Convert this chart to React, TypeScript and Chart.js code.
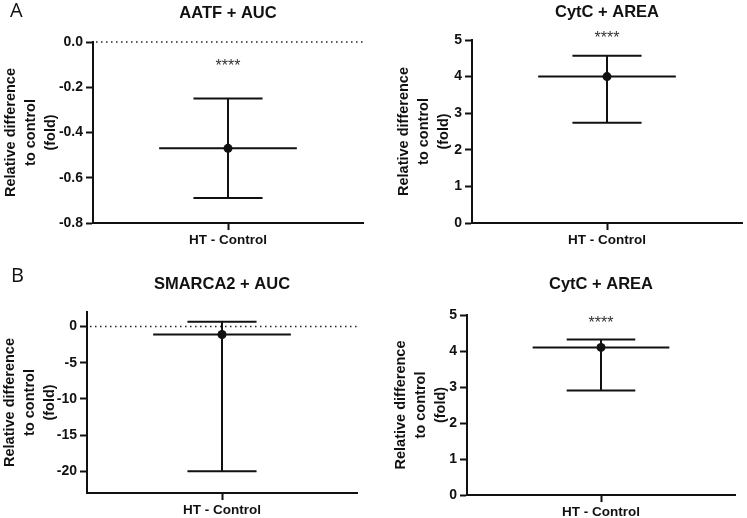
import React, { useEffect, useRef } from 'react';
import Chart from 'chart.js/auto';

// === Data ===
const CATEGORY = ['HT - Control'];
const PANEL_TITLES = ['AATF + AUC', 'CytC + AREA', 'SMARCA2 + AUC', 'CytC + AREA'];
const MEANS = [-0.47, 4.0, -1.1, 4.1];
const CI_LOWER = [-0.69, 2.74, -20.0, 2.9];
const CI_UPPER = [-0.25, 4.57, 0.65, 4.32];
const STARS = ['****', '****', '', '****'];
const STAR_VALUE = [-0.09, 5.16, 0, 4.9];
const Y_MIN = [-0.8, 0, -23, 0];
const Y_MAX = [0, 5, 2, 5];
const Y_TICKS = [
  [0, -0.2, -0.4, -0.6, -0.8],
  [0, 1, 2, 3, 4, 5],
  [0, -5, -10, -15, -20],
  [0, 1, 2, 3, 4, 5],
];
const Y_DECIMALS = [1, 0, 0, 0];
const Y_TITLE = ['Relative difference', 'to control', '(fold)'];
const FIGURE_LETTERS = ['A', 'B'];

// === Layout (pixels in the 747x518 page) ===
const PANEL_LAYOUT = [
  { box: [0, 0, 375, 259], area: [93, 42, 363, 223], titleY: 13.5, yTitleX: 11 },
  { box: [375, 0, 372, 259], area: [472, 40, 742, 223], titleY: 12.5, yTitleX: 404 },
  { box: [0, 259, 375, 259], area: [87, 312, 357, 493], titleY: 284, yTitleX: 10 },
  { box: [375, 259, 372, 259], area: [467, 315, 735, 495], titleY: 284, yTitleX: 401 },
];
const LETTER_POS = [
  { left: 10, top: 0 },
  { left: 11, top: 264.5 },
];

const FONT = "'Liberation Sans', Arial, sans-serif";
const TITLE_SIZE = 16.5;
const TITLE_LH = TITLE_SIZE * 1.2;
const YTITLE_LH = 20;
const INK = '#111111';

Chart.defaults.font.family = FONT;

// === Error bar / reference line / significance plugin ===
const errorBarPlugin = {
  id: 'errorBars',
  beforeDatasetsDraw(chart: any, _args: any, opts: any) {
    const { ctx, chartArea } = chart;
    const x = chart.scales.x;
    const y = chart.scales.y;
    const cx = x.getPixelForValue(0);
    const w = chartArea.right - chartArea.left;
    const meanHalf = w * 0.255;
    const capHalf = w * 0.128;

    ctx.save();
    // dotted zero line
    if (y.min < 0 && y.max >= 0) {
      const y0 = y.getPixelForValue(0);
      ctx.beginPath();
      ctx.setLineDash([1.5, 3.5]);
      ctx.lineWidth = 1.5;
      ctx.strokeStyle = '#222';
      ctx.moveTo(chartArea.left + 3, y0);
      ctx.lineTo(chartArea.right, y0);
      ctx.stroke();
      ctx.setLineDash([]);
    }

    const yLo = y.getPixelForValue(opts.lower);
    const yHi = y.getPixelForValue(opts.upper);
    const yMean = y.getPixelForValue(opts.mean);
    ctx.strokeStyle = INK;
    ctx.lineWidth = 2;
    ctx.lineCap = 'butt';
    ctx.beginPath();
    ctx.moveTo(cx, yLo);
    ctx.lineTo(cx, yHi);
    ctx.moveTo(cx - capHalf, yLo);
    ctx.lineTo(cx + capHalf, yLo);
    ctx.moveTo(cx - capHalf, yHi);
    ctx.lineTo(cx + capHalf, yHi);
    ctx.moveTo(cx - meanHalf, yMean);
    ctx.lineTo(cx + meanHalf, yMean);
    ctx.stroke();
    ctx.restore();
  },
  afterDraw(chart: any, _args: any, opts: any) {
    if (!opts.stars) return;
    const { ctx } = chart;
    const cx = chart.scales.x.getPixelForValue(0);
    const size = 16;
    const yc = chart.scales.y.getPixelForValue(opts.starValue);
    ctx.save();
    ctx.font = `${size}px ${FONT}`;
    ctx.fillStyle = '#333';
    ctx.textAlign = 'center';
    ctx.textBaseline = 'alphabetic';
    ctx.fillText(opts.stars, cx, yc + size * 0.57);
    ctx.restore();
  },
};

// === One panel ===
const Panel: React.FC<{ index: number }> = ({ index }) => {
  const canvasRef = useRef<HTMLCanvasElement>(null);
  const lay = PANEL_LAYOUT[index];
  const [bl, bt, bw, bh] = lay.box;
  const [al, at, ar, ab] = lay.area;

  useEffect(() => {
    if (!canvasRef.current) return;
    const yWidth = al - bl;
    const padRight = bl + bw - ar;
    const titlePadTop = lay.titleY - bt - TITLE_LH / 2;
    const titlePadBottom = at - bt - titlePadTop - TITLE_LH;
    const xHeight = bt + bh - ab;
    const yTitlePad = Math.max(0, lay.yTitleX - bl - YTITLE_LH / 2);
    const decimals = Y_DECIMALS[index];

    const chart = new Chart(canvasRef.current, {
      type: 'line',
      data: {
        labels: CATEGORY,
        datasets: [
          {
            data: [MEANS[index]],
            showLine: false,
            pointRadius: 4.5,
            pointHoverRadius: 4.5,
            pointBorderWidth: 0,
            backgroundColor: INK,
            borderColor: INK,
          },
        ],
      },
      options: {
        animation: false,
        responsive: true,
        maintainAspectRatio: false,
        events: [],
        layout: { padding: { left: 0, right: padRight, top: 0, bottom: 0 } },
        plugins: {
          legend: { display: false },
          tooltip: { enabled: false },
          title: {
            display: true,
            text: PANEL_TITLES[index],
            fullSize: false,
            color: INK,
            font: { size: TITLE_SIZE, weight: 'bold', lineHeight: 1.2 },
            padding: { top: titlePadTop, bottom: titlePadBottom },
          },
          errorBars: {
            mean: MEANS[index],
            lower: CI_LOWER[index],
            upper: CI_UPPER[index],
            stars: STARS[index],
            starValue: STAR_VALUE[index],
          },
        } as any,
        scales: {
          x: {
            type: 'category',
            offset: true,
            grid: {
              offset: false,
              drawOnChartArea: false,
              drawTicks: true,
              tickLength: 7,
              tickWidth: 2,
              color: INK,
            },
            border: { display: true, color: INK, width: 2 },
            ticks: {
              color: INK,
              padding: 2,
              font: { size: 13.5, weight: 'bold' },
            },
            afterFit: (scale: any) => {
              scale.height = xHeight;
            },
          },
          y: {
            type: 'linear',
            min: Y_MIN[index],
            max: Y_MAX[index],
            grid: {
              drawOnChartArea: false,
              drawTicks: true,
              tickLength: 7,
              tickWidth: 2,
              color: INK,
            },
            border: { display: true, color: INK, width: 2 },
            ticks: {
              color: INK,
              padding: 3,
              font: { size: 14, weight: 'bold' },
              callback: (v: any) => Number(v).toFixed(decimals),
            },
            afterBuildTicks: (scale: any) => {
              scale.ticks = Y_TICKS[index].map((value) => ({ value }));
            },
            afterFit: (scale: any) => {
              scale.width = yWidth;
            },
            title: {
              display: true,
              text: Y_TITLE,
              color: INK,
              padding: { top: yTitlePad, bottom: 0 },
              font: { size: 14.5, weight: 'bold', lineHeight: YTITLE_LH / 14.5 },
            },
          },
        },
      },
      plugins: [errorBarPlugin],
    });

    return () => {
      chart.destroy();
    };
  }, [index]);

  return (
    <div style={{ position: 'absolute', left: bl, top: bt, width: bw, height: bh }}>
      <canvas ref={canvasRef} />
    </div>
  );
};

// === Figure ===
export default function App() {
  return (
    <div
      style={{
        position: 'absolute',
        left: 0,
        top: 0,
        width: 747,
        height: 518,
        background: '#fff',
        overflow: 'hidden',
      }}
    >
      {PANEL_LAYOUT.map((_, i) => (
        <Panel key={i} index={i} />
      ))}
      {FIGURE_LETTERS.map((letter, i) => (
        <span
          key={letter}
          style={{
            position: 'absolute',
            left: LETTER_POS[i].left,
            top: LETTER_POS[i].top,
            fontFamily: "'Open Sans', sans-serif",
            fontSize: 20,
            lineHeight: '20px',
            color: '#111',
          }}
        >
          {letter}
        </span>
      ))}
    </div>
  );
}
